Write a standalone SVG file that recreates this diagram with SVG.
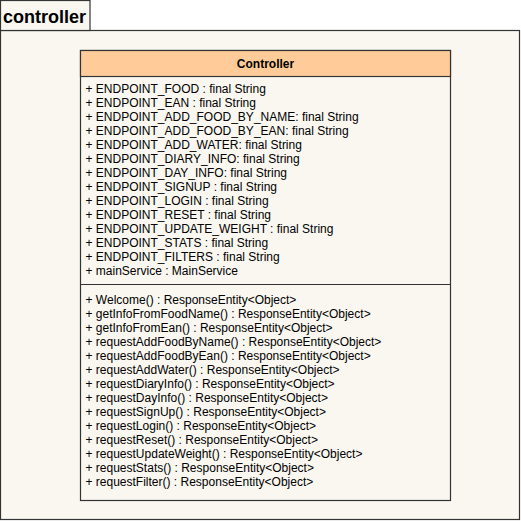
<svg xmlns="http://www.w3.org/2000/svg" width="521" height="521" viewBox="0 0 521 521">
<style>
.box{fill:#F9F7F0;stroke:#333333;stroke-width:1.2}
.hdr{fill:#FFCC99;stroke:#333333;stroke-width:1.2}
.ln{stroke:#333333;stroke-width:1.2}
.t{font-family:"Liberation Sans",Arial,sans-serif;font-size:12px;fill:#000}
.b{font-family:"Liberation Sans",Arial,sans-serif;font-weight:bold;fill:#000}
</style>
<rect width="521" height="521" fill="#FFFFFF"/>
<g id="package-controller">
<rect class="box" x="0.5" y="30.5" width="519" height="489"/>
<rect class="box" x="0.5" y="0.5" width="89.5" height="30"/>
<text class="b" x="3" y="23" font-size="18">controller</text>
</g>
<g id="class-Controller">
<rect class="box" x="80.5" y="50.5" width="370" height="450"/>
<rect class="hdr" x="80.5" y="50.5" width="370" height="26"/>
<text class="b" x="265.5" y="67.5" font-size="12" text-anchor="middle">Controller</text>
<line class="ln" x1="80.5" y1="284.5" x2="450.5" y2="284.5"/>
<g class="t">
<text x="85.5" y="93">+ ENDPOINT_FOOD : final String</text>
<text x="85.5" y="107">+ ENDPOINT_EAN : final String</text>
<text x="85.5" y="121">+ ENDPOINT_ADD_FOOD_BY_NAME: final String</text>
<text x="85.5" y="135">+ ENDPOINT_ADD_FOOD_BY_EAN: final String</text>
<text x="85.5" y="149">+ ENDPOINT_ADD_WATER: final String</text>
<text x="85.5" y="163">+ ENDPOINT_DIARY_INFO: final String</text>
<text x="85.5" y="177">+ ENDPOINT_DAY_INFO: final String</text>
<text x="85.5" y="191">+ ENDPOINT_SIGNUP : final String</text>
<text x="85.5" y="205">+ ENDPOINT_LOGIN : final String</text>
<text x="85.5" y="219">+ ENDPOINT_RESET : final String</text>
<text x="85.5" y="233">+ ENDPOINT_UPDATE_WEIGHT : final String</text>
<text x="85.5" y="247">+ ENDPOINT_STATS : final String</text>
<text x="85.5" y="261">+ ENDPOINT_FILTERS : final String</text>
<text x="85.5" y="275">+ mainService : MainService</text>
<text x="85.5" y="304">+ Welcome() : ResponseEntity&lt;Object&gt;</text>
<text x="85.5" y="318">+ getInfoFromFoodName() : ResponseEntity&lt;Object&gt;</text>
<text x="85.5" y="332">+ getInfoFromEan() : ResponseEntity&lt;Object&gt;</text>
<text x="85.5" y="346">+ requestAddFoodByName() : ResponseEntity&lt;Object&gt;</text>
<text x="85.5" y="360">+ requestAddFoodByEan() : ResponseEntity&lt;Object&gt;</text>
<text x="85.5" y="374">+ requestAddWater() : ResponseEntity&lt;Object&gt;</text>
<text x="85.5" y="388">+ requestDiaryInfo() : ResponseEntity&lt;Object&gt;</text>
<text x="85.5" y="402">+ requestDayInfo() : ResponseEntity&lt;Object&gt;</text>
<text x="85.5" y="416">+ requestSignUp() : ResponseEntity&lt;Object&gt;</text>
<text x="85.5" y="430">+ requestLogin() : ResponseEntity&lt;Object&gt;</text>
<text x="85.5" y="444">+ requestReset() : ResponseEntity&lt;Object&gt;</text>
<text x="85.5" y="458">+ requestUpdateWeight() : ResponseEntity&lt;Object&gt;</text>
<text x="85.5" y="472">+ requestStats() : ResponseEntity&lt;Object&gt;</text>
<text x="85.5" y="486">+ requestFilter() : ResponseEntity&lt;Object&gt;</text>
</g>
</g>
<g id="connectors"/>
</svg>
